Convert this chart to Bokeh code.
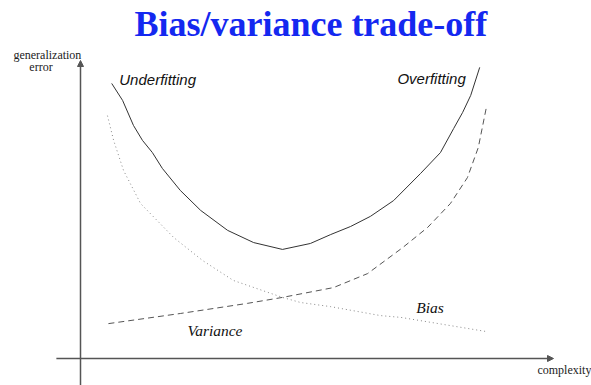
from bokeh.plotting import figure
from bokeh.models import Range1d, Arrow, NormalHead
from bokeh.core.properties import value
from bokeh.embed import file_html
from bokeh.resources import INLINE

# ---- data (complexity units vs. generalization error units) ----
total_x = [0.66, 0.89, 1.12, 1.31, 1.52, 1.73, 2.11, 2.54, 3.11, 3.66, 4.27, 4.86, 5.29,
           5.71, 6.13, 6.62, 7.19, 7.61, 7.89, 8.08, 8.25, 8.44]
total_y = [9.23, 8.66, 7.82, 7.32, 6.91, 6.38, 5.64, 4.97, 4.30, 3.89, 3.66, 3.86, 4.16,
           4.43, 4.77, 5.30, 6.21, 6.91, 7.72, 8.26, 8.83, 9.77]

dotted_x = [0.57, 0.70, 0.91, 1.27, 1.97, 2.58, 3.23, 4.27, 4.65, 5.29, 6.34, 6.77, 8.56]
dotted_y = [8.15, 7.32, 6.31, 5.20, 4.06, 3.29, 2.62, 2.05, 1.88, 1.74, 1.44, 1.38, 0.91]

dashed_x = [0.59, 2.11, 3.53, 4.27, 5.35, 6.07, 6.81, 7.34, 7.82, 8.18, 8.41, 8.58]
dashed_y = [1.17, 1.51, 1.85, 2.05, 2.38, 2.85, 3.72, 4.40, 5.20, 6.07, 7.08, 8.42]

title_text = "Bias/variance trade-off"
y_label = ["generalization", "error"]
x_label = "complexity"
curve_labels = ["Underfitting", "Overfitting", "Bias", "Variance"]

# ---- layout ----
W, H = 591, 385
X_PER = 47.3   # px per complexity unit
Y_PER = 29.8   # px per error unit
OX, OY = 80, 358  # origin in frame pixels

p = figure(width=W, height=H, output_backend="svg", toolbar_location=None,
           x_range=Range1d(-OX / X_PER, (W - OX) / X_PER),
           y_range=Range1d(-(H - OY) / Y_PER, OY / Y_PER),
           min_border=0, outline_line_color=None)
p.axis.visible = False
p.grid.visible = False
p.background_fill_color = "white"
p.border_fill_color = "white"

# axes as arrows
axis_col = "#555555"
p.add_layout(Arrow(x_start=0, y_start=-(H - OY) / Y_PER, x_end=0, y_end=10.0,
                   line_color=axis_col, line_width=1.5,
                   end=NormalHead(size=6, fill_color=axis_col, line_color=axis_col)))
p.add_layout(Arrow(x_start=-0.51, y_start=0, x_end=10.0, y_end=0,
                   line_color=axis_col, line_width=1.5,
                   end=NormalHead(size=6, fill_color=axis_col, line_color=axis_col)))

# curves
p.line(total_x, total_y, line_color="#333333", line_width=1.0)
p.line(dashed_x, dashed_y, line_color="#555555", line_width=1.0, line_dash="6 4")
p.line(dotted_x, dotted_y, line_color="#888888", line_width=1.0, line_dash="1 3")

# texts
p.text(x=[4.87], y=[11.24], text=[title_text], text_font=value("Liberation Serif"),
       text_font_style="bold", text_font_size="36px", text_color="#1428F0",
       text_align="center", text_baseline="alphabetic")
p.text(x=[-0.70, -0.835], y=[10.20, 9.77], text=y_label, text_font=value("Liberation Serif"),
       text_font_size="12px", text_color="#222222", text_align="center", text_baseline="middle")
p.text(x=[9.66], y=[-0.40], text=[x_label], text_font=value("Liberation Serif"),
       text_font_size="12px", text_color="#222222", text_align="left", text_baseline="middle")
p.text(x=[0.82, 6.70], y=[9.36, 9.40], text=curve_labels[:2], text_font=value("Liberation Sans"),
       text_font_style="italic", text_font_size="15px", text_color="#111111",
       text_align="left", text_baseline="middle")
p.text(x=[7.10, 2.26], y=[1.71, 0.94], text=curve_labels[2:], text_font=value("Liberation Serif"),
       text_font_style="italic", text_font_size="15.5px", text_color="#111111",
       text_align="left", text_baseline="middle")

open("out.html", "w").write(file_html(p, INLINE))
